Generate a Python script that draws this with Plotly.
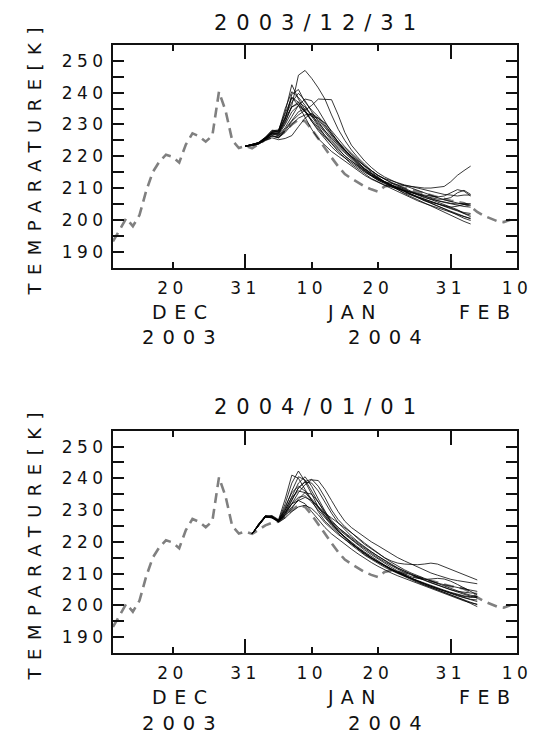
import pandas as pd
import plotly.graph_objects as go

# ---------------- data ----------------
analysis_start = "2003-12-11"
analysis_temp = [193.2, 196.8, 200.5, 198.0, 201.5, 209.0, 215.0, 218.3, 220.5, 219.8,
                 218.0, 223.7, 227.2, 226.3, 224.6, 226.5, 240.3, 234.3, 225.0, 222.6,
                 223.2, 222.5, 223.8, 225.2, 226.0, 226.4, 228.0, 230.0, 231.5, 231.0,
                 228.5, 225.5, 222.3, 219.6, 216.8, 214.4, 213.0, 211.8, 210.5, 209.6,
                 208.9, 210.5, 211.0, 210.6, 210.0, 209.5, 209.0, 208.4, 207.8, 207.2,
                 206.6, 206.0, 205.7, 205.2, 204.2, 202.5, 201.3, 200.4, 199.6, 199.3, 200.0]

init_1231 = "2003-12-31"
members_1231 = [
    [223.2, 223.6, 224.2, 225.8, 227.5, 228.0, 234.0, 242.5, 238.0, 234.5, 231.0, 228.0, 225.5, 223.0, 221.0, 219.5, 218.0, 216.5, 215.0, 213.8, 212.5, 211.5, 210.5, 209.5, 208.5, 207.8, 207.0, 206.3, 205.5, 205.0, 204.5, 204.0, 204.3, 204.8, 205.0],
    [223.2, 223.5, 224.0, 225.5, 227.0, 227.2, 230.5, 236.0, 245.5, 247.0, 244.5, 241.5, 238.0, 233.0, 228.5, 225.0, 222.0, 219.5, 217.5, 215.5, 214.0, 212.8, 211.5, 210.5, 209.6, 208.8, 208.0, 207.2, 206.5, 205.8, 205.0, 204.0, 203.2, 202.0, 201.0],
    [223.2, 223.4, 224.1, 225.5, 226.5, 226.0, 228.0, 231.0, 233.0, 234.5, 236.0, 238.0, 238.0, 237.8, 233.0, 227.5, 223.5, 221.0, 218.5, 216.5, 214.8, 213.5, 212.5, 211.5, 210.8, 210.0, 209.3, 208.5, 207.8, 207.0, 206.3, 205.8, 205.2, 204.8, 204.5],
    [223.2, 223.7, 224.3, 225.8, 227.8, 227.5, 232.0, 238.5, 237.0, 234.0, 231.5, 229.0, 226.5, 224.5, 222.5, 220.0, 218.5, 217.0, 215.5, 214.0, 213.0, 212.0, 211.5, 211.0, 210.8, 210.5, 210.2, 210.0, 210.0, 210.2, 210.5, 212.0, 214.0, 215.5, 216.9],
    [223.2, 223.6, 224.4, 226.0, 228.2, 228.0, 235.0, 240.3, 238.5, 236.0, 232.5, 229.5, 226.5, 224.0, 221.5, 219.5, 217.5, 216.0, 214.5, 213.0, 212.0, 211.0, 210.3, 209.8, 209.2, 208.6, 208.0, 207.5, 207.0, 206.5, 206.5, 207.0, 208.5, 209.3, 208.0],
    [223.2, 223.5, 224.2, 225.6, 227.5, 227.8, 232.5, 237.0, 239.8, 237.5, 234.0, 231.0, 228.0, 225.5, 223.5, 221.5, 219.5, 217.5, 215.8, 214.2, 212.8, 211.8, 210.8, 209.8, 208.8, 208.0, 207.3, 206.5, 205.8, 205.0, 204.3, 203.5, 202.8, 202.0, 201.5],
    [223.2, 223.4, 223.9, 225.3, 226.5, 225.8, 228.5, 231.5, 234.0, 235.0, 233.0, 230.5, 228.0, 226.0, 224.0, 222.0, 220.0, 218.0, 216.0, 214.5, 213.0, 211.8, 210.8, 209.8, 208.8, 207.8, 207.0, 206.0, 205.3, 204.5, 203.5, 202.5, 201.5, 200.5, 199.8],
    [223.2, 223.3, 223.8, 225.0, 225.8, 225.2, 225.6, 226.5, 229.3, 232.0, 233.5, 232.0, 229.5, 227.0, 224.5, 222.5, 220.5, 218.5, 216.8, 215.0, 213.5, 212.0, 210.8, 209.5, 208.3, 207.3, 206.3, 205.3, 204.5, 203.5, 202.5, 201.5, 200.5, 199.5, 198.7],
    [223.2, 223.6, 224.2, 225.7, 227.2, 227.4, 231.0, 235.5, 237.0, 235.5, 233.0, 230.0, 227.5, 225.0, 223.0, 221.0, 219.0, 217.2, 215.5, 214.0, 212.8, 211.8, 211.0, 210.2, 209.4, 208.6, 207.8, 207.0, 206.5, 206.0, 205.5, 205.2, 205.0, 205.2, 205.0],
    [223.2, 223.5, 224.1, 225.5, 227.0, 226.8, 230.0, 234.0, 236.0, 234.0, 232.5, 232.0, 230.5, 228.0, 225.5, 223.0, 221.0, 219.0, 217.0, 215.5, 214.0, 213.0, 212.3, 211.5, 211.0, 210.5, 210.0, 209.5, 209.0, 208.5, 208.0, 207.8, 207.5, 207.8, 207.8],
    [223.2, 223.7, 224.3, 225.9, 228.0, 228.3, 233.5, 238.5, 236.0, 232.0, 228.5, 225.5, 223.5, 221.5, 220.0, 218.5, 217.0, 215.5, 214.0, 212.8, 211.8, 210.8, 209.8, 208.8, 208.0, 207.0, 206.0, 205.2, 204.5, 203.8, 203.0, 202.3, 201.5, 201.0, 200.5],
    [223.2, 223.5, 224.0, 225.4, 227.3, 227.0, 231.5, 239.5, 241.0, 237.0, 234.5, 232.5, 230.0, 227.0, 224.5, 222.0, 220.0, 218.5, 217.0, 215.5, 214.0, 212.8, 211.8, 210.8, 210.0, 209.0, 208.3, 207.5, 206.8, 206.0, 205.5, 205.0, 204.5, 204.2, 204.0],
    [223.2, 223.4, 223.9, 225.2, 226.3, 225.8, 227.5, 230.0, 232.0, 233.0, 233.3, 231.5, 229.0, 226.5, 224.0, 221.5, 219.5, 217.5, 216.0, 214.5, 213.2, 212.0, 211.0, 210.0, 209.0, 208.0, 207.2, 206.5, 205.8, 205.0, 204.3, 203.5, 202.8, 202.3, 202.0],
    [223.2, 223.6, 224.2, 225.6, 227.6, 227.9, 232.0, 235.5, 236.5, 234.0, 231.0, 228.5, 226.0, 224.0, 222.0, 220.2, 218.5, 216.8, 215.2, 213.8, 212.5, 211.5, 210.5, 209.8, 209.2, 208.7, 208.2, 207.8, 207.5, 207.2, 207.5, 208.5, 209.5, 209.0, 207.5],
    [223.2, 223.5, 224.1, 225.5, 227.0, 226.5, 229.0, 232.5, 236.0, 238.0, 237.5, 234.5, 231.0, 227.5, 224.5, 222.0, 220.0, 218.0, 216.2, 214.6, 213.2, 212.0, 211.0, 210.0, 209.0, 208.0, 207.0, 206.0, 205.2, 204.3, 203.5, 202.6, 201.8, 201.0, 200.3],
]

init_0101 = "2004-01-01"
members_0101 = [
    [222.5, 225.3, 228.2, 227.8, 226.8, 232.0, 238.5, 242.3, 239.0, 235.0, 231.0, 228.0, 225.5, 223.5, 221.5, 219.5, 217.8, 216.0, 214.8, 213.5, 212.3, 211.2, 210.2, 209.3, 208.5, 207.6, 206.8, 206.0, 205.3, 204.5, 203.8, 203.0, 202.4, 201.8, 201.2],
    [222.5, 225.6, 228.0, 228.3, 227.0, 233.5, 241.0, 240.0, 236.5, 233.0, 229.5, 226.5, 224.5, 222.5, 220.8, 219.0, 217.3, 215.8, 214.5, 213.2, 212.0, 211.0, 210.0, 209.0, 208.0, 207.2, 206.4, 205.6, 204.8, 204.0, 203.2, 202.4, 201.6, 200.8, 200.2],
    [222.5, 225.0, 227.8, 228.0, 226.3, 228.5, 232.0, 235.5, 238.0, 239.5, 239.3, 236.5, 233.0, 229.5, 226.5, 224.5, 223.0, 221.5, 220.0, 218.8, 217.5, 216.3, 215.0, 214.0, 213.0, 212.0, 211.0, 210.2, 209.5, 208.8, 208.2, 207.8, 207.5, 207.0, 206.8],
    [222.5, 225.4, 228.1, 227.6, 226.4, 229.0, 233.0, 237.0, 239.0, 239.7, 237.5, 234.0, 230.0, 227.0, 224.8, 222.8, 221.0, 219.2, 217.8, 216.3, 215.0, 214.0, 213.3, 213.0, 212.8, 212.8, 213.0, 213.3, 213.0, 212.2, 211.3, 210.5, 209.6, 208.8, 208.0],
    [222.5, 225.2, 227.9, 227.7, 226.6, 230.5, 236.0, 240.5, 239.5, 236.0, 232.5, 229.0, 226.0, 223.5, 221.5, 219.5, 218.0, 216.5, 215.0, 213.8, 212.6, 211.5, 210.5, 209.5, 208.5, 207.6, 206.8, 206.0, 205.3, 204.6, 203.9, 203.3, 202.8, 202.5, 202.8],
    [222.5, 225.5, 228.0, 228.0, 226.5, 229.0, 232.0, 234.0, 234.5, 232.5, 230.0, 227.5, 225.2, 223.2, 221.5, 219.8, 218.3, 216.8, 215.4, 214.0, 212.7, 211.5, 210.5, 209.5, 208.6, 207.8, 207.0, 206.2, 205.5, 204.8, 204.1, 203.5, 203.0, 202.7, 202.5],
    [222.5, 225.3, 227.9, 227.5, 226.2, 227.5, 229.5, 231.0, 231.5, 230.5, 228.5, 226.0, 224.0, 222.3, 220.8, 219.3, 217.8, 216.3, 215.0, 213.7, 212.5, 211.3, 210.3, 209.3, 208.3, 207.4, 206.5, 205.7, 204.9, 204.1, 203.3, 202.5, 201.6, 200.6, 199.6],
    [222.5, 225.7, 228.2, 228.1, 226.8, 230.0, 234.0, 236.0, 235.5, 233.0, 230.5, 228.0, 225.8, 224.0, 222.3, 220.6, 219.0, 217.4, 216.0, 214.6, 213.3, 212.0, 210.8, 209.8, 209.0, 208.5, 208.2, 208.3, 208.5, 208.3, 207.6, 206.6, 205.5, 204.3, 203.3],
    [222.5, 225.1, 227.7, 227.9, 226.5, 229.5, 233.5, 237.0, 238.8, 238.5, 236.0, 232.5, 229.0, 226.0, 223.8, 221.8, 220.0, 218.4, 216.9, 215.5, 214.2, 213.0, 211.8, 210.8, 209.8, 208.9, 208.0, 207.2, 206.4, 205.6, 204.9, 204.2, 203.5, 202.9, 202.3],
    [222.5, 225.4, 228.0, 227.6, 226.4, 229.3, 232.0, 233.0, 232.0, 229.5, 227.0, 224.5, 222.5, 220.8, 219.2, 217.7, 216.2, 214.8, 213.5, 212.3, 211.2, 210.2, 209.3, 208.5, 207.7, 206.9, 206.1, 205.3, 204.5, 203.7, 202.9, 202.1, 201.4, 200.8, 200.4],
    [222.5, 225.6, 228.1, 227.9, 226.7, 231.0, 235.5, 237.5, 236.0, 233.5, 231.0, 228.5, 226.3, 224.5, 222.8, 221.2, 219.7, 218.2, 216.8, 215.4, 214.0, 212.8, 211.7, 210.7, 209.8, 209.0, 208.3, 207.6, 207.0, 206.5, 206.0, 205.6, 205.2, 204.8, 204.4],
    [222.5, 225.2, 227.8, 227.8, 226.3, 228.5, 231.0, 233.0, 234.0, 233.0, 231.0, 229.0, 227.5, 226.0, 224.5, 223.0, 221.3, 219.6, 218.0, 216.5, 215.0, 213.6, 212.3, 211.2, 210.2, 209.3, 208.5, 207.7, 206.9, 206.1, 205.3, 204.5, 203.8, 203.2, 202.8],
    [222.5, 225.3, 228.0, 227.9, 226.6, 230.0, 234.5, 238.5, 240.5, 237.5, 233.5, 229.5, 226.0, 223.3, 221.2, 219.4, 217.8, 216.3, 214.9, 213.6, 212.4, 211.3, 210.3, 209.4, 208.5, 207.6, 206.8, 206.0, 205.2, 204.4, 203.7, 203.0, 202.4, 201.9, 201.7],
    [222.5, 225.5, 228.1, 227.7, 226.5, 228.0, 230.5, 233.5, 235.5, 235.0, 232.5, 229.5, 226.8, 224.5, 222.6, 220.9, 219.3, 217.8, 216.4, 215.0, 213.7, 212.5, 211.4, 210.4, 209.5, 208.7, 207.9, 207.1, 206.3, 205.6, 204.9, 204.4, 204.1, 203.9, 203.8],
]

panel_titles = ["2003/12/31", "2004/01/01"]
x_range = ["2003-12-11", "2004-02-10"]
day_tick_dates = ["2003-12-20", "2003-12-31", "2004-01-10", "2004-01-20", "2004-01-31", "2004-02-10"]
day_tick_labels = ["20", "31", "10", "20", "31", "10"]
month_end_ticks = ["2003-12-31", "2004-01-31"]
month_labels = ["DEC", "JAN", "FEB"]
month_label_dates = ["2003-12-21", "2004-01-16", "2004-02-05"]
year_labels = ["2003", "2004"]
year_label_dates = ["2003-12-21", "2004-01-21"]
y_major = [190, 200, 210, 220, 230, 240, 250]
y_minor = [195, 205, 215, 225, 235, 245]
y_title = "TEMPARATURE[K]"

# ---------------- style ----------------
FONT = "DejaVu Sans"
INK = "#111111"


def spaced(text, px):
    return '<span style="letter-spacing:%spx">%s</span>' % (px, text)


W, H = 544, 747
ML, MR, MT, MB = 112.7, 20.7, 45.0, 93.8
plot_h = H - MT - MB
top_dom = [(H - MB - 267.6) / plot_h, 1.0]
bot_dom = [0.0, (H - MB - 430.8) / plot_h]


def ypaper(py):
    return (H - MB - py) / plot_h


def xpaper(px):
    return (px - ML) / (W - ML - MR)


fig = go.Figure()

ana_dates = pd.date_range(analysis_start, periods=len(analysis_temp), freq="D")
panels = [("x", "y", init_1231, members_1231), ("x2", "y2", init_0101, members_0101)]
for xa, ya, init, members in panels:
    fig.add_trace(go.Scatter(x=ana_dates, y=analysis_temp, mode="lines", xaxis=xa, yaxis=ya,
                             line=dict(color="#808080", width=2.6, dash="10px,6px"),
                             hoverinfo="skip"))
    for m in members:
        d = pd.date_range(init, periods=len(m), freq="D")
        fig.add_trace(go.Scatter(x=d, y=m, mode="lines", xaxis=xa, yaxis=ya,
                                 line=dict(color="rgba(0,0,0,0.78)", width=1.0),
                                 hoverinfo="skip"))

# invisible traces so the overlay (long tick) axes are drawn
fig.add_trace(go.Scatter(x=[], y=[], xaxis="x3", yaxis="y", showlegend=False))
fig.add_trace(go.Scatter(x=[], y=[], xaxis="x4", yaxis="y2", showlegend=False))

xcommon = dict(type="date", range=x_range, tickmode="array", tickvals=day_tick_dates,
               ticktext=[spaced(t, 4.5) for t in day_tick_labels],
               ticks="inside", ticklen=6, tickwidth=1.6, tickcolor=INK,
               showline=True, linecolor=INK, linewidth=2, mirror="allticks",
               showgrid=False, zeroline=False,
               tickfont=dict(family=FONT, size=17, color=INK), ticklabelstandoff=4)
xlong = dict(type="date", range=x_range, tickmode="array", tickvals=month_end_ticks,
             ticks="inside", ticklen=14, tickwidth=1.6, tickcolor=INK,
             showticklabels=False, showline=False, mirror="allticks",
             showgrid=False, zeroline=False)
ycommon = dict(range=[185, 255], tickmode="array", tickvals=y_major,
               ticktext=[spaced(str(v), 4.5) for v in y_major],
               ticks="inside", ticklen=11, tickwidth=1.6, tickcolor=INK,
               minor=dict(tickmode="array", tickvals=y_minor, ticks="inside", ticklen=6,
                          tickwidth=1.6, tickcolor=INK, showgrid=False),
               showline=True, linecolor=INK, linewidth=2, mirror="allticks",
               showgrid=False, zeroline=False,
               tickfont=dict(family=FONT, size=17, color=INK))

fig.update_layout(
    width=W, height=H,
    margin=dict(l=ML, r=MR, t=MT, b=MB, pad=0),
    paper_bgcolor="white", plot_bgcolor="white", showlegend=False,
    xaxis=dict(domain=[0, 1], anchor="y", **xcommon),
    xaxis2=dict(domain=[0, 1], anchor="y2", **xcommon),
    xaxis3=dict(domain=[0, 1], anchor="y", overlaying="x", **xlong),
    xaxis4=dict(domain=[0, 1], anchor="y2", overlaying="x2", **xlong),
    yaxis=dict(domain=top_dom, anchor="x", **ycommon),
    yaxis2=dict(domain=bot_dom, anchor="x2", **ycommon),
)

ann = []
title_y = [22.5, 407.0]
month_y = [312.0, 312.0 + 385.6]
year_y = [338.0, 338.0 + 385.6]
ytitle_y = [161.0, 546.0]
for i in range(2):
    xr = "x" if i == 0 else "x2"
    ann.append(dict(text=spaced(panel_titles[i], 9), xref="paper", yref="paper",
                    x=0.5, y=ypaper(title_y[i]), xanchor="center", yanchor="middle",
                    xshift=4.5, showarrow=False, font=dict(family=FONT, size=21, color=INK)))
    for lab, dt in zip(month_labels, month_label_dates):
        ann.append(dict(text=spaced(lab, 7.5), xref=xr, yref="paper",
                        x=dt, y=ypaper(month_y[i]), xanchor="center", yanchor="middle",
                        xshift=3.75, showarrow=False, font=dict(family=FONT, size=19, color=INK)))
    for lab, dt in zip(year_labels, year_label_dates):
        ann.append(dict(text=spaced(lab, 8), xref=xr, yref="paper",
                        x=dt, y=ypaper(year_y[i]), xanchor="center", yanchor="middle",
                        xshift=4, showarrow=False, font=dict(family=FONT, size=19.5, color=INK)))
    ann.append(dict(text=spaced(y_title, 8.5), xref="paper", yref="paper",
                    x=xpaper(33.3), y=ypaper(ytitle_y[i]), xanchor="center", yanchor="middle",
                    yshift=4.25, textangle=-90, showarrow=False,
                    font=dict(family=FONT, size=18, color=INK)))
fig.update_layout(annotations=ann)

fig.write_html("out.html")
